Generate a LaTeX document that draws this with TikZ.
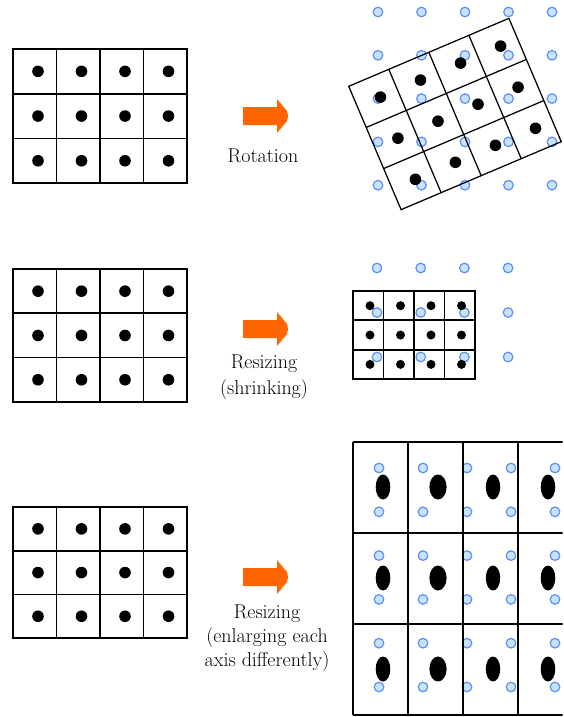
\documentclass[tikz,border=0pt]{standalone}
\usetikzlibrary{calc}
\definecolor{arroworange}{HTML}{FF6600}
\definecolor{pinfill}{HTML}{C8E3FF}
\definecolor{pinline}{HTML}{5E8FF7}
\begin{document}
\begin{tikzpicture}[x=1pt,y=-1pt,
  gridline/.style={line width=1.7pt,black},
  thingrid/.style={line width=1.25pt,black},
  dot/.style={fill=black},
  pin/.style={draw=pinline,fill=pinfill,line width=1.2pt},
  caption/.style={font=\fontsize{20}{24}\selectfont,anchor=base,inner sep=0pt},
  blockarrow/.pic={
    \fill[arroworange] (-22,-9) -- (12,-9) -- (12,-17) -- (22,-5) -- (23,0)
      -- (22,5) -- (12,17) -- (12,9) -- (-22,9) -- cycle;
  }]
\useasboundingbox (0,0) rectangle (563,717);

% ---------- source grids (4 x 3 cells, one dot per cell) ----------
\foreach \gy/\gh/\gn in {49/44.7/a, 269/44.3/b, 507/43.7/c} {
  \begin{scope}[shift={(13,\gy)}]
    \foreach \i in {1,2,3}
      \draw[gridline] (\i*43.5,0) -- (\i*43.5,3*\gh);
    \foreach \j in {1,2}
      \draw[gridline] (0,\j*\gh) -- (174,\j*\gh);
    \draw[gridline] (0,0) rectangle (174,3*\gh);
    \foreach \i in {0,...,3}
      \foreach \j in {0,...,2}
        \fill[dot] (\i*43.5+25,\j*\gh+\gh/2) circle (5.8pt);
  \end{scope}
}

% ---------- transformation arrows and captions ----------
\pic (arrA) at (265,116) {blockarrow};
\pic (arrB) at (265,329) {blockarrow};
\pic (arrC) at (265,577) {blockarrow};

\node[caption] (capA) at (263,162) {Rotation};
\node[caption] (capB1) at (264,368) {Resizing};
\node[caption] (capB2) at (264,394) {(shrinking)};
\node[caption] (capC1) at (267,618) {Resizing};
\node[caption] (capC2) at (267,642) {(enlarging each};
\node[caption] (capC3) at (267,666) {axis differently)};

% ---------- rotation: target pixel lattice + rotated grid ----------
\foreach \i in {0,...,4}
  \foreach \j in {0,...,4}
    \draw[pin] (378+43.5*\i,12+43.3*\j) circle (4.8pt);
\begin{scope}[shift={(455,114)},rotate=23]
  \foreach \i in {1,2,3}
    \draw[thingrid] (-87+\i*43.5,-67) -- (-87+\i*43.5,67);
  \foreach \j in {1,2}
    \draw[thingrid] (-87,-67+\j*44.67) -- (87,-67+\j*44.67);
  \draw[thingrid] (-87,-67) rectangle (87,67);
  \foreach \i in {0,...,3}
    \foreach \j in {0,...,2}
      \fill[dot] (-87+\i*43.5+25,-67+\j*44.67+22.3) circle (5.8pt);
\end{scope}

% ---------- shrinking: target pixel lattice + reduced grid ----------
\foreach \i in {0,...,3}
  \foreach \j in {0,...,2}
    \draw[pin] (377+43.7*\i,268+44.5*\j) circle (4.8pt);
\begin{scope}[shift={(353,291)}]
  \foreach \i in {1,2,3}
    \draw[gridline] (\i*30.5,0) -- (\i*30.5,88);
  \foreach \j in {1,2}
    \draw[gridline] (0,\j*29.33) -- (122,\j*29.33);
  \draw[gridline] (0,0) rectangle (122,88);
  \foreach \i in {0,...,3}
    \foreach \j in {0,...,2}
      \fill[dot] (\i*30.5+17,\j*29.33+14.7) circle (4.5pt);
\end{scope}

% ---------- anisotropic enlarging: target lattice + stretched grid ----------
\begin{scope}
  \clip (0,0) rectangle (562.5,717);
  \foreach \i in {0,...,4}
    \foreach \j in {0,...,5}
      \draw[pin] (379+44*\i,468+43.8*\j) circle (4.8pt);
  \begin{scope}[shift={(353,442)}]
    \foreach \i in {1,2,3,4}
      \draw[gridline] (\i*55,0) -- (\i*55,273);
    \foreach \j in {0,1,2,3}
      \draw[gridline] (0,\j*91) -- (220,\j*91);
    \draw[gridline] (0,0) -- (0,273);
    \foreach \i/\rx in {0/7.3,1/8.6,2/7.2,3/7.3}
      \foreach \j in {0,...,2}
        \fill[dot] (\i*55+30,\j*91+45) ellipse [x radius=\rx pt,y radius=12.5pt];
  \end{scope}
\end{scope}
\end{tikzpicture}
\end{document}
